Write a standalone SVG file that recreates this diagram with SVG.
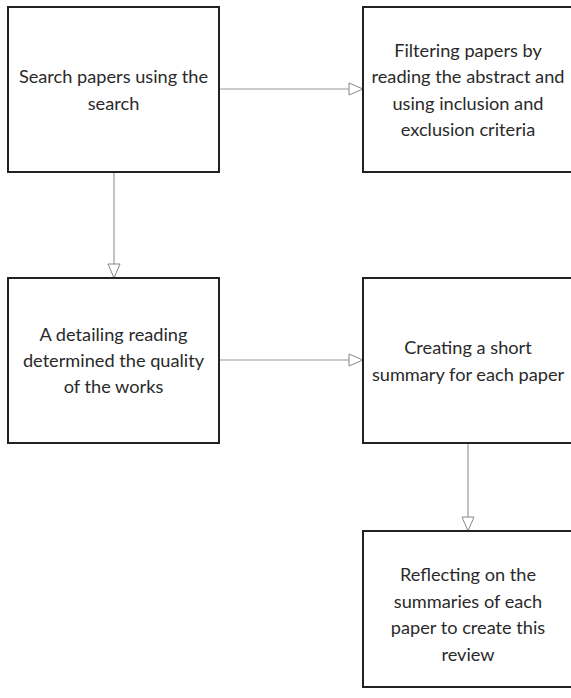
<svg xmlns="http://www.w3.org/2000/svg" width="571" height="698" viewBox="0 0 571 698">
<style>
.box{fill:#fff;stroke:#222;stroke-width:2}
.lbl{font-family:Lato,"Liberation Sans",sans-serif;font-size:18.2px;fill:#2a2a2a;text-anchor:middle}
.con{stroke:#999;stroke-width:1.2;fill:none}
</style>
<defs>
<marker id="arr" viewBox="0 0 16 14" refX="15" refY="7" markerWidth="16" markerHeight="14" markerUnits="userSpaceOnUse" orient="auto">
<path d="M1,1 L15,7 L1,13 Z" fill="#fff" stroke="#888" stroke-width="1"/>
</marker>
</defs>
<rect width="571" height="698" fill="#fff"/>
<g id="connectors">
<line class="con" x1="220" y1="89" x2="363" y2="89" marker-end="url(#arr)"/>
<line class="con" x1="114" y1="173" x2="114" y2="278" marker-end="url(#arr)"/>
<line class="con" x1="220" y1="360" x2="363" y2="360" marker-end="url(#arr)"/>
<line class="con" x1="468" y1="444" x2="468" y2="531" marker-end="url(#arr)"/>
</g>
<g id="n1">
<rect class="box" x="8" y="7" width="211" height="165"/>
<text class="lbl" x="113.5" y="83">Search papers using the</text>
<text class="lbl" x="113.5" y="110">search</text>
</g>
<g id="n2">
<rect class="box" x="363" y="7" width="212" height="165"/>
<text class="lbl" x="468" y="57">Filtering papers by</text>
<text class="lbl" x="468" y="83">reading the abstract and</text>
<text class="lbl" x="468" y="110">using inclusion and</text>
<text class="lbl" x="468" y="136">exclusion criteria</text>
</g>
<g id="n3">
<rect class="box" x="8" y="278" width="211" height="165"/>
<text class="lbl" x="113.5" y="341">A detailing reading</text>
<text class="lbl" x="113.5" y="367">determined the quality</text>
<text class="lbl" x="113.5" y="393">of the works</text>
</g>
<g id="n4">
<rect class="box" x="363" y="278" width="212" height="165"/>
<text class="lbl" x="468" y="354">Creating a short</text>
<text class="lbl" x="468" y="381">summary for each paper</text>
</g>
<g id="n5">
<rect class="box" x="363" y="531" width="212" height="156"/>
<text class="lbl" x="468" y="581">Reflecting on the</text>
<text class="lbl" x="468" y="608">summaries of each</text>
<text class="lbl" x="468" y="634">paper to create this</text>
<text class="lbl" x="468" y="661">review</text>
</g>
</svg>
